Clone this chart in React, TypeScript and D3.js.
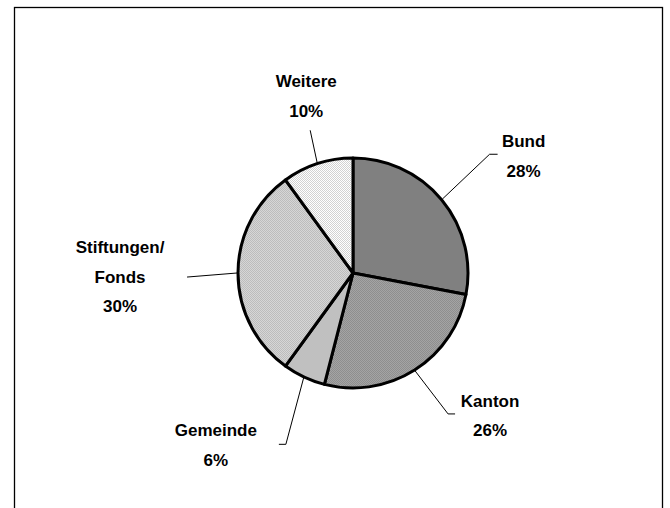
import React, { useEffect, useRef } from "react";
import * as d3 from "d3";

// chart values
const categories = ["Bund", "Kanton", "Gemeinde", "Stiftungen/Fonds", "Weitere"];
const shares = [28, 26, 6, 30, 10];
const labelLines = [["Bund"], ["Kanton"], ["Gemeinde"], ["Stiftungen/", "Fonds"], ["Weitere"]];

const W = 670, H = 508;
const cx = 353, cy = 273, radius = 115;

// leader layout per slice: angle offset (deg), elbow radius, tick length, label dx, dy
const leaders = [
  { da: -1.4, r: 181, tick: 8, dx: 34, dy: -7 },
  { da: -1.6, r: 170, tick: 7, dx: 42, dy: -7 },
  { da: -3.8, r: 184, tick: -7, dx: -70, dy: -8 },
  { da: -1.4, r: 166, tick: 0, dx: -67, dy: -24 },
  { da: 1.3, r: 149, tick: 0, dx: -4, dy: -43 },
];
const fills = ["#808080", "url(#patKanton)", "#c0c0c0", "url(#patStift)", "url(#patWeitere)"];

export default function App() {
  const ref = useRef<SVGSVGElement>(null);

  useEffect(() => {
    const svg = d3.select(ref.current);
    svg.selectAll("*").remove();

    const defs = svg.append("defs");
    const pat = (id, base, dot) => {
      const p = defs.append("pattern").attr("id", id).attr("width", 2).attr("height", 2)
        .attr("patternUnits", "userSpaceOnUse");
      p.append("rect").attr("width", 2).attr("height", 2).attr("fill", base);
      p.append("rect").attr("width", 1).attr("height", 1).attr("fill", dot);
      p.append("rect").attr("x", 1).attr("y", 1).attr("width", 1).attr("height", 1).attr("fill", dot);
    };
    pat("patKanton", "#a4a4a4", "#8e8e8e");
    pat("patStift", "#d6d6d6", "#bcbcbc");
    pat("patWeitere", "#ffffff", "#d2d2d2");

    // frame (bottom edge runs off the picture)
    svg.append("rect").attr("x", 14.5).attr("y", 7.5).attr("width", 648).attr("height", H + 20)
      .attr("fill", "#fff").attr("stroke", "#000").attr("stroke-width", 1.3);

    const pie = d3.pie<number>().sort(null).value(d => d);
    const arcs = pie(shares);
    const arc = d3.arc<d3.PieArcDatum<number>>().innerRadius(0).outerRadius(radius);

    const g = svg.append("g").attr("transform", `translate(${cx},${cy})`);
    g.selectAll("path.slice").data(arcs).join("path")
      .attr("class", "slice")
      .attr("d", arc)
      .attr("fill", (d, i) => fills[i])
      .attr("stroke", "#000")
      .attr("stroke-width", 3)
      .attr("stroke-linejoin", "round");

    const polar = (a, r) => [r * Math.sin(a), -r * Math.cos(a)];

    arcs.forEach((d, i) => {
      const L = leaders[i];
      const mid = (d.startAngle + d.endAngle) / 2;
      const [x0, y0] = polar(mid, radius + 1);
      const [x1, y1] = polar(mid + (L.da * Math.PI) / 180, L.r);
      const pts = [[x0, y0], [x1, y1]];
      if (L.tick) pts.push([x1 + L.tick, y1]);
      g.append("path")
        .attr("d", d3.line()(pts as [number, number][]))
        .attr("fill", "none")
        .attr("stroke", "#000")
        .attr("stroke-width", 1);

      const lines = [...labelLines[i], `${shares[i]}%`];
      const t = g.append("text")
        .attr("text-anchor", "middle")
        .attr("font-family", "'Liberation Sans', Arial, sans-serif")
        .attr("font-weight", "bold")
        .attr("font-size", 17)
        .attr("fill", "#000");
      lines.forEach((s, k) => {
        t.append("tspan")
          .attr("x", x1 + L.dx)
          .attr("y", y1 + L.dy + k * 29.5)
          .text(s);
      });
    });
  }, []);

  return (
    <svg ref={ref} width={W} height={H}
      style={{ position: "absolute", left: 0, top: 0, display: "block", background: "#fff" }} />
  );
}
